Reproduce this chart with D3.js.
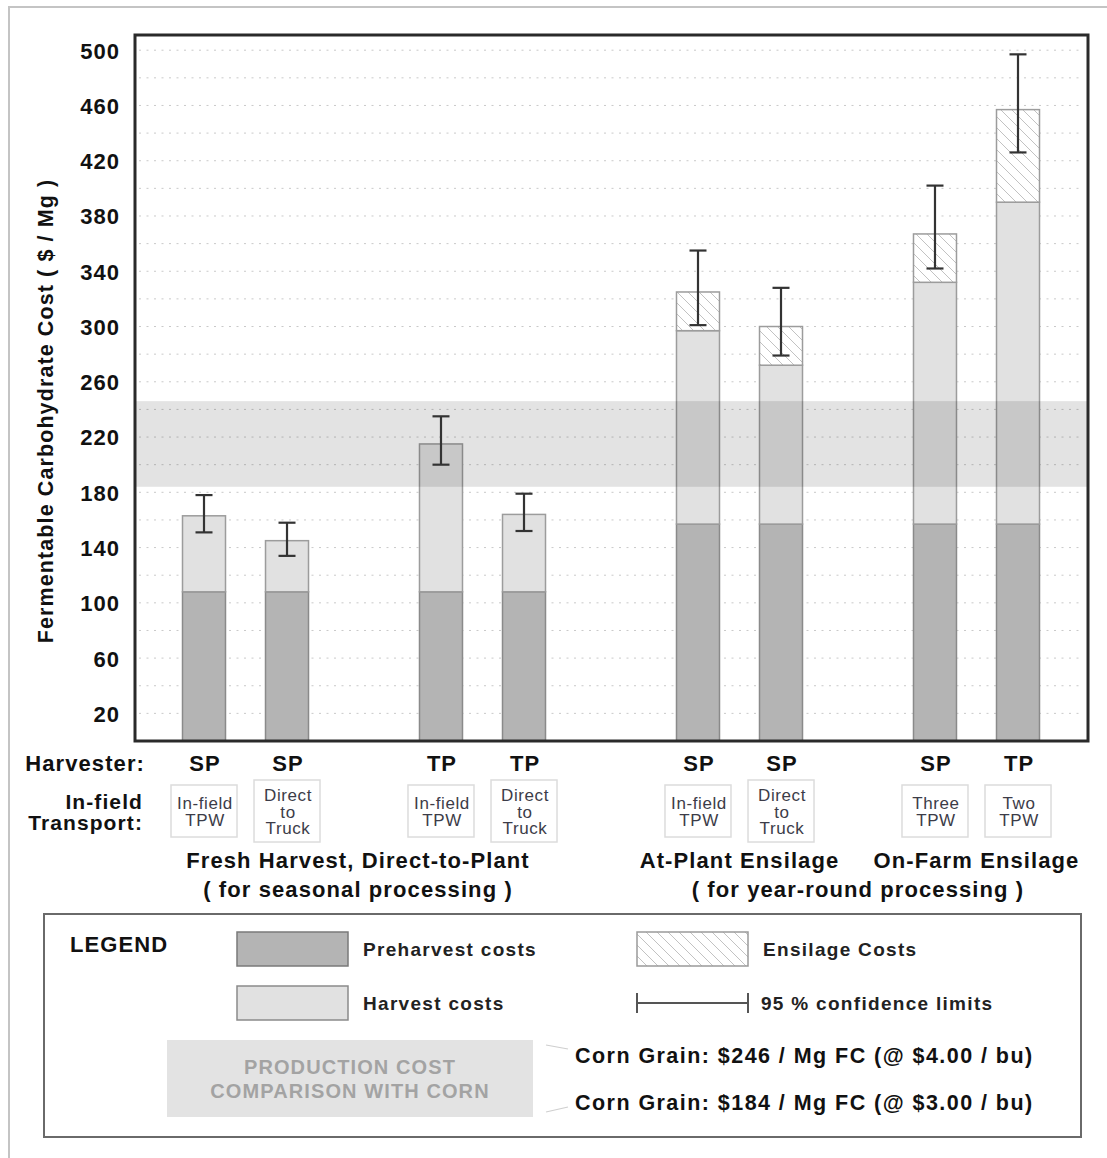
<!DOCTYPE html>
<html>
<head>
<meta charset="utf-8">
<script src="https://cdn.jsdelivr.net/npm/d3@7"></script>
<style>
  html, body { margin: 0; padding: 0; background: #fff; }
  svg text { font-family: "Liberation Sans", Arial, Helvetica, sans-serif; }
</style>
</head>
<body>
<svg id="chart" width="1107" height="1158"></svg>
<script>
// ---------------- DATA ----------------
const harvester  = ["SP", "SP", "TP", "TP", "SP", "SP", "SP", "TP"];
const transport  = [["In-field", "TPW"], ["Direct", "to", "Truck"], ["In-field", "TPW"], ["Direct", "to", "Truck"],
                    ["In-field", "TPW"], ["Direct", "to", "Truck"], ["Three", "TPW"], ["Two", "TPW"]];
const preharvest = [108, 108, 108, 108, 157, 157, 157, 157];
const harvest    = [55, 37, 107, 56, 140, 115, 175, 233];
const ensilage   = [0, 0, 0, 0, 28, 28, 35, 67];
const ciLow      = [151, 134, 200, 152, 301, 279, 342, 426];
const ciHigh     = [178, 158, 235, 179, 355, 328, 402, 497];
const yTicks     = [20, 60, 100, 140, 180, 220, 260, 300, 340, 380, 420, 460, 500];
const cornBand   = [184, 246];
const groupLabels = [
  { bars: [0, 1, 2, 3], text: "Fresh Harvest, Direct-to-Plant", line: 0 },
  { bars: [0, 1, 2, 3], text: "( for seasonal processing )", line: 1 },
  { bars: [4, 5], text: "At-Plant Ensilage", line: 0 },
  { bars: [6, 7], text: "On-Farm Ensilage", line: 0 },
  { bars: [4, 5, 6, 7], text: "( for year-round processing )", line: 1 }
];
const cornTexts = ["Corn Grain: $246 / Mg FC (@ $4.00 / bu)", "Corn Grain: $184 / Mg FC (@ $3.00 / bu)"];

// ---------------- LAYOUT ----------------
const svg = d3.select("#chart");
const plot = { left: 135, right: 1088, top: 35, bottom: 741 };
const PAIR_GAP = 0.855, SUPER_GAP = 0.241;
const slot = i => i + Math.floor(i / 2) * PAIR_GAP + Math.floor(i / 4) * SUPER_GAP;
const x = d3.scaleLinear().domain([slot(0), slot(7)]).range([204, 1018]);
const barW = 43;
const y = d3.scaleLinear().domain([0, 511]).range([plot.bottom, plot.top]);
const FONT = "Liberation Sans, Arial, Helvetica, sans-serif";

const COL_PRE = "#b4b4b4", COL_PRE_S = "#8a8a8a";
const COL_HAR = "#e1e1e1", COL_HAR_S = "#9c9c9c";

// hatch pattern
const defs = svg.append("defs");
const pat = defs.append("pattern").attr("id", "hatch").attr("patternUnits", "userSpaceOnUse")
  .attr("width", 11).attr("height", 11);
pat.append("rect").attr("width", 11).attr("height", 11).attr("fill", "#fff");
pat.append("path").attr("d", "M0,0 L11,11 M-5.5,5.5 L5.5,16.5 M5.5,-5.5 L16.5,5.5")
  .attr("stroke", "#c2c2c2").attr("stroke-width", 1);

// outer figure border (only top/left visible)
svg.append("rect").attr("x", 9).attr("y", 7).attr("width", 1300).attr("height", 1400)
  .attr("fill", "none").attr("stroke", "#c4c4c4").attr("stroke-width", 2);

// grid lines
const gridVals = d3.range(20, 501, 20);
svg.append("g").selectAll("line").data(gridVals).join("line")
  .attr("x1", plot.left + 4).attr("x2", plot.right - 4)
  .attr("y1", d => y(d)).attr("y2", d => y(d))
  .attr("stroke", "#c9c9c9").attr("stroke-width", 1).attr("stroke-dasharray", "2,5.5");

// bars
const barsData = harvester.map((h, i) => ({
  i, pre: preharvest[i], har: harvest[i], ens: ensilage[i], lo: ciLow[i], hi: ciHigh[i]
}));
const gBars = svg.append("g");
gBars.selectAll("rect.pre").data(barsData).join("rect").attr("class", "pre")
  .attr("x", d => x(slot(d.i)) - barW / 2).attr("width", barW)
  .attr("y", d => y(d.pre)).attr("height", d => y(0) - y(d.pre))
  .attr("fill", COL_PRE).attr("stroke", COL_PRE_S).attr("stroke-width", 1.5);
gBars.selectAll("rect.har").data(barsData).join("rect").attr("class", "har")
  .attr("x", d => x(slot(d.i)) - barW / 2).attr("width", barW)
  .attr("y", d => y(d.pre + d.har)).attr("height", d => y(d.pre) - y(d.pre + d.har))
  .attr("fill", COL_HAR).attr("stroke", COL_HAR_S).attr("stroke-width", 1.5);
gBars.selectAll("rect.ens").data(barsData.filter(d => d.ens > 0)).join("rect").attr("class", "ens")
  .attr("x", d => x(slot(d.i)) - barW / 2).attr("width", barW)
  .attr("y", d => y(d.pre + d.har + d.ens)).attr("height", d => y(d.pre + d.har) - y(d.pre + d.har + d.ens))
  .attr("fill", "url(#hatch)").attr("stroke", COL_HAR_S).attr("stroke-width", 1.5);

// corn comparison band (translucent overlay)
svg.append("rect").attr("x", plot.left).attr("width", plot.right - plot.left)
  .attr("y", y(cornBand[1])).attr("height", y(cornBand[0]) - y(cornBand[1]))
  .attr("fill", "#000").attr("fill-opacity", 0.11);

// error bars
const gErr = svg.append("g").attr("stroke", "#333").attr("stroke-width", 2.2);
barsData.forEach(d => {
  const cx = x(slot(d.i));
  gErr.append("line").attr("x1", cx).attr("x2", cx).attr("y1", y(d.lo)).attr("y2", y(d.hi));
  gErr.append("line").attr("x1", cx - 8.5).attr("x2", cx + 8.5).attr("y1", y(d.hi)).attr("y2", y(d.hi));
  gErr.append("line").attr("x1", cx - 8.5).attr("x2", cx + 8.5).attr("y1", y(d.lo)).attr("y2", y(d.lo));
});

// frame
svg.append("rect").attr("x", plot.left).attr("y", plot.top)
  .attr("width", plot.right - plot.left).attr("height", plot.bottom - plot.top)
  .attr("fill", "none").attr("stroke", "#2a2a2a").attr("stroke-width", 3);

// y axis (labels only)
const yAxis = d3.axisLeft(y).tickValues(yTicks).tickSize(0).tickPadding(0).tickFormat(d3.format("d"));
const gy = svg.append("g").attr("transform", "translate(120,0)").call(yAxis);
gy.select(".domain").remove();
gy.selectAll("text").attr("font-family", FONT).attr("font-size", 22).attr("font-weight", "bold")
  .attr("fill", "#111").attr("letter-spacing", "1px").attr("dy", "0.36em");

// y title
svg.append("text").attr("transform", "translate(53,411) rotate(-90)")
  .attr("text-anchor", "middle").attr("font-size", 21.5).attr("font-weight", "bold")
  .attr("letter-spacing", "1.1px").attr("fill", "#111")
  .text("Fermentable Carbohydrate Cost ( $ / Mg )");

// harvester row
const hdr = { "font-size": 22, "font-weight": "bold", "fill": "#111", "letter-spacing": "1.1px" };
function styl(sel, o) { Object.entries(o).forEach(([k, v]) => sel.attr(k, v)); return sel; }
styl(svg.append("text").attr("x", 145).attr("y", 771).attr("text-anchor", "end").text("Harvester:"), hdr);
const hdr2 = Object.assign({}, hdr, { "font-size": 21 });
styl(svg.append("text").attr("x", 143).attr("y", 809).attr("text-anchor", "end").text("In-field"), hdr2);
styl(svg.append("text").attr("x", 143).attr("y", 830).attr("text-anchor", "end").text("Transport:"), hdr2);

svg.append("g").selectAll("text").data(harvester).join("text")
  .attr("x", (d, i) => x(slot(i)) + 1).attr("y", 771).attr("text-anchor", "middle")
  .attr("font-size", 22).attr("font-weight", "bold").attr("fill", "#111").attr("letter-spacing", "1px")
  .text(d => d);

// transport boxes
const boxW = 66, boxCY = 811, lineH = 16.8;
transport.forEach((lines, i) => {
  const cx = x(slot(i));
  const h = 10 * lines.length + 32;
  svg.append("rect").attr("x", cx - boxW / 2).attr("y", boxCY - h / 2).attr("width", boxW).attr("height", h)
    .attr("fill", "#fff").attr("stroke", "#dcdcdc").attr("stroke-width", 1.5);
  lines.forEach((t, k) => {
    svg.append("text").attr("x", cx + 1).attr("y", boxCY + (k - (lines.length - 1) / 2) * lineH + 6.5)
      .attr("text-anchor", "middle").attr("font-size", 17).attr("fill", "#3c3c48")
      .attr("letter-spacing", "0.6px").text(t);
  });
});

// group labels
svg.append("g").selectAll("text").data(groupLabels).join("text")
  .attr("x", d => d3.mean(d.bars, b => x(slot(b))) - (d.bars.length === 4 && d.bars[0] === 0 ? 6 : 0))
  .attr("y", d => d.line === 0 ? 868 : 897)
  .attr("text-anchor", "middle").attr("font-size", 22).attr("font-weight", "bold")
  .attr("fill", "#111").attr("letter-spacing", "1.1px").text(d => d.text);

// ---------------- LEGEND ----------------
svg.append("rect").attr("x", 44).attr("y", 914).attr("width", 1037).attr("height", 223)
  .attr("fill", "#fff").attr("stroke", "#6a6a6a").attr("stroke-width", 2);
styl(svg.append("text").attr("x", 70).attr("y", 952).text("LEGEND"), hdr);

const legText = { "font-size": 19, "font-weight": "bold", "fill": "#222", "letter-spacing": "1.3px" };
svg.append("rect").attr("x", 237).attr("y", 932).attr("width", 111).attr("height", 34)
  .attr("fill", COL_PRE).attr("stroke", "#7a7a7a").attr("stroke-width", 1.5);
styl(svg.append("text").attr("x", 363).attr("y", 956).text("Preharvest costs"), legText);
svg.append("rect").attr("x", 237).attr("y", 986).attr("width", 111).attr("height", 34)
  .attr("fill", COL_HAR).attr("stroke", "#8a8a8a").attr("stroke-width", 1.5);
styl(svg.append("text").attr("x", 363).attr("y", 1010).text("Harvest costs"), legText);

svg.append("rect").attr("x", 637).attr("y", 932).attr("width", 111).attr("height", 34)
  .attr("fill", "url(#hatch)").attr("stroke", "#9a9a9a").attr("stroke-width", 1.5);
styl(svg.append("text").attr("x", 763).attr("y", 956).text("Ensilage Costs"), legText);
const gl = svg.append("g").attr("stroke", "#555").attr("stroke-width", 2);
gl.append("line").attr("x1", 637).attr("x2", 748).attr("y1", 1003).attr("y2", 1003);
gl.append("line").attr("x1", 637).attr("x2", 637).attr("y1", 993).attr("y2", 1013);
gl.append("line").attr("x1", 748).attr("x2", 748).attr("y1", 993).attr("y2", 1013);
styl(svg.append("text").attr("x", 761).attr("y", 1010).text("95 % confidence limits"), legText);

svg.append("rect").attr("x", 167).attr("y", 1040).attr("width", 366).attr("height", 77).attr("fill", "#e3e3e3");
const prodText = { "font-size": 20, "font-weight": "bold", "fill": "#a3a3a3", "letter-spacing": "1.1px", "text-anchor": "middle" };
styl(svg.append("text").attr("x", 350).attr("y", 1074).text("PRODUCTION COST"), prodText);
styl(svg.append("text").attr("x", 350).attr("y", 1098).text("COMPARISON WITH CORN"), prodText);

const gc = svg.append("g").attr("stroke", "#cfcfcf").attr("stroke-width", 1.2);
gc.append("line").attr("x1", 546).attr("y1", 1045).attr("x2", 568).attr("y2", 1049);
gc.append("line").attr("x1", 546).attr("y1", 1112).attr("x2", 568).attr("y2", 1107);
const cornStyle = { "font-size": 21.5, "font-weight": "bold", "fill": "#111", "letter-spacing": "1.45px" };
cornTexts.forEach((t, k) => styl(svg.append("text").attr("x", 575).attr("y", k === 0 ? 1063 : 1110).text(t), cornStyle));
</script>
</body>
</html>
